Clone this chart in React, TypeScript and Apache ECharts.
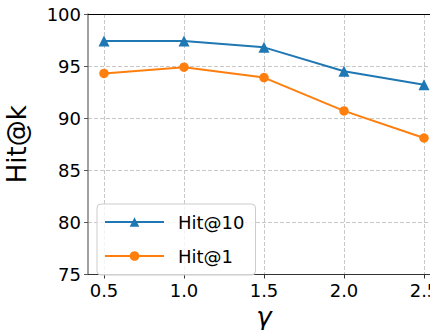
import React, { useEffect, useRef } from "react";
import * as echarts from "echarts";

const gammaValues = [0.5, 1.0, 1.5, 2.0, 2.5];
const hit10 = [97.4, 97.4, 96.8, 94.5, 93.2];
const hit1 = [94.3, 94.9, 93.9, 90.7, 88.1];
const xTicks = [0.5, 1.0, 1.5, 2.0, 2.5];

const FONT = "DejaVu Sans";

export default function App() {
  const ref = useRef<HTMLDivElement>(null);
  useEffect(() => {
    if (!ref.current) return;
    const chart = echarts.init(ref.current, undefined, { renderer: "svg" });
    const gridLine = { show: true, lineStyle: { color: "#c8c8c8", type: [4, 2], width: 1 } };
    chart.setOption({
      animation: false,
      backgroundColor: "#fff",
      grid: {
        left: 88,
        top: 14,
        width: 352,
        height: 260.5,
        containLabel: false,
        outerBoundsMode: "none",
      },
      legend: {
        left: 97,
        top: 204,
        orient: "vertical",
        padding: [9, 11, 10, 7],
        itemWidth: 59,
        itemHeight: 12,
        itemGap: 16,
        backgroundColor: "rgba(255,255,255,0.8)",
        borderColor: "#cccccc",
        borderWidth: 1,
        borderRadius: 4,
        textStyle: { fontFamily: FONT, fontSize: 18, color: "#000", padding: [0, 0, 0, 9] },
        data: ["Hit@10", "Hit@1"],
      },
      xAxis: [
        {
          type: "value",
          min: 0.4,
          max: 2.6,
          name: "γ",
          nameLocation: "middle",
          nameGap: 24,
          nameTextStyle: { fontFamily: FONT, fontSize: 26, fontStyle: "italic", color: "#000" },
          axisLine: { show: true, lineStyle: { color: "#333", width: 1.2 } },
          axisTick: { show: true, length: 4, customValues: xTicks, lineStyle: { color: "#333" } },
          axisLabel: {
            customValues: xTicks,
            fontFamily: FONT,
            fontSize: 18,
            color: "#000",
            margin: 7,
            hideOverlap: false,
            formatter: (v: number) => v.toFixed(1),
          },
          splitLine: gridLine,
        },
        {
          type: "value",
          position: "top",
          min: 0.4,
          max: 2.6,
          axisLine: { show: true, lineStyle: { color: "#000", width: 1.2 } },
          axisTick: { show: false },
          axisLabel: { show: false },
          splitLine: { show: false },
        },
      ],
      yAxis: {
        type: "value",
        min: 75,
        max: 100,
        interval: 5,
        name: "Hit@k",
        nameLocation: "middle",
        nameGap: 58,
        nameTextStyle: { fontFamily: FONT, fontSize: 26, color: "#000" },
        axisLine: { show: true, lineStyle: { color: "#808080", width: 1.5 } },
        axisTick: { show: true, length: 4, lineStyle: { color: "#555" } },
        axisLabel: { fontFamily: FONT, fontSize: 18, color: "#000", margin: 7 },
        splitLine: gridLine,
      },
      series: [
        {
          name: "Hit@10",
          type: "line",
          data: gammaValues.map((g, i) => [g, hit10[i]]),
          symbol: "triangle",
          symbolSize: 11,
          itemStyle: { color: "#1f77b4" },
          lineStyle: { color: "#1f77b4", width: 2 },
        },
        {
          name: "Hit@1",
          type: "line",
          data: gammaValues.map((g, i) => [g, hit1[i]]),
          symbol: "circle",
          symbolSize: 9.5,
          itemStyle: { color: "#ff7f0e" },
          lineStyle: { color: "#ff7f0e", width: 2 },
        },
      ],
    });
    return () => chart.dispose();
  }, []);
  return <div ref={ref} style={{ width: 430, height: 330, position: "absolute", left: 0, top: 0 }} />;
}
